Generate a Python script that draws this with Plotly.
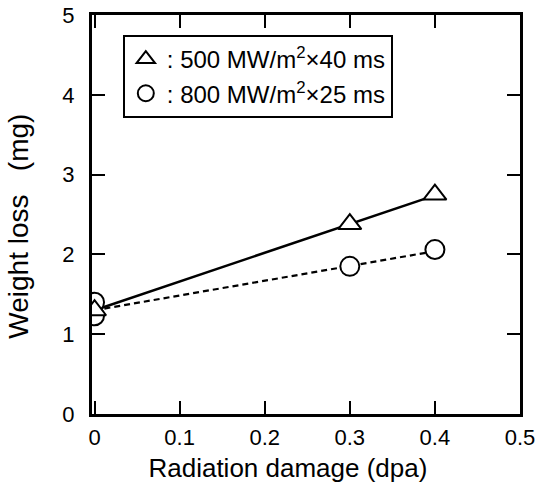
import plotly.graph_objects as go

# Data
dpa_tri = [0.0, 0.3, 0.4]
loss_tri = [1.30, 2.38, 2.75]
dpa_circ = [0.0, 0.0, 0.3, 0.4]
loss_circ = [1.40, 1.23, 1.85, 2.06]

# fitted lines (start at the common origin point)
fit_x = [0.0, 0.3, 0.4]
fit_tri = [1.30, 2.38, 2.74]
fit_circ = [1.30, 1.85, 2.04]

x_ticks = [0, 0.1, 0.2, 0.3, 0.4, 0.5]
x_labels = ["0", "0.1", "0.2", "0.3", "0.4", "0.5"]
y_ticks = [0, 1, 2, 3, 4, 5]

FONT = "Liberation Sans, Arial, Helvetica, sans-serif"

fig = go.Figure()
fig.add_trace(go.Scatter(x=fit_x, y=fit_tri, mode="lines",
                         line=dict(color="black", width=2.5), showlegend=False))
fig.add_trace(go.Scatter(x=fit_x, y=fit_circ, mode="lines",
                         line=dict(color="black", width=2.2, dash="6px,4px"), showlegend=False))
fig.add_trace(go.Scatter(x=dpa_circ, y=loss_circ, mode="markers",
                         marker=dict(symbol="circle", size=19, color="white",
                                     line=dict(color="black", width=2)),
                         legendgroup="b", legendrank=2,
                         name=": 800 MW/m<sup>2</sup>×25 ms"))
fig.add_trace(go.Scatter(x=dpa_tri, y=loss_tri, mode="markers",
                         marker=dict(symbol="triangle-up", size=20, color="white",
                                     line=dict(color="black", width=2)),
                         legendgroup="a", legendrank=1,
                         name=": 500 MW/m<sup>2</sup>×40 ms"))

axis_common = dict(showline=True, linecolor="black", linewidth=3, mirror="ticks",
                   ticks="inside", ticklen=13, tickwidth=1.5, tickcolor="black",
                   showgrid=False, zeroline=False, automargin=False,
                   tickfont=dict(family=FONT, size=22, color="black"))

fig.update_layout(
    width=540, height=490,
    margin=dict(l=92, r=20, t=15, b=76),
    paper_bgcolor="white", plot_bgcolor="white",
    font=dict(family=FONT, color="black"),
    xaxis=dict(range=[-0.003, 0.5], tickvals=x_ticks, ticktext=x_labels,
               ticklabelstandoff=2,
               title=dict(text="Radiation damage (dpa)" + "&nbsp;" * 5,
                          font=dict(family=FONT, size=26), standoff=10),
               **axis_common),
    yaxis=dict(range=[0, 5], tickvals=y_ticks, ticklabelstandoff=10,
               title=dict(text="Weight loss&nbsp;&nbsp;&nbsp;(mg)" + "&nbsp;" * 3,
                          font=dict(family=FONT, size=28), standoff=26),
               **axis_common),
    legend=dict(x=0.072, y=0.95, xanchor="left", yanchor="top",
                bordercolor="black", borderwidth=2, bgcolor="white",
                traceorder="grouped", tracegroupgap=0,
                font=dict(family=FONT, size=24, color="black"),
                itemwidth=32),
)

fig.write_html("out.html", config={"displayModeBar": False},
               post_script="document.body.style.margin='0';document.body.style.padding='0';")
